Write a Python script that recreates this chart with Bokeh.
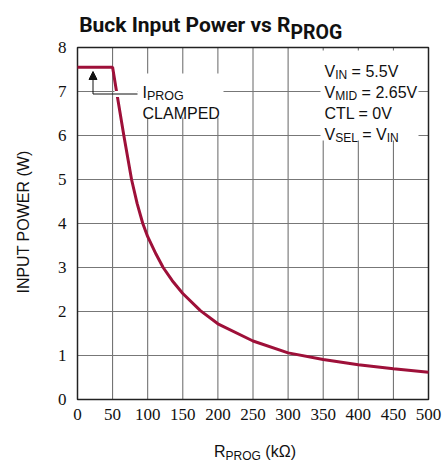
from bokeh.plotting import figure
from bokeh.models import Range1d, Label, BoxAnnotation, Arrow, NormalHead
from bokeh.core.properties import value
from bokeh.embed import file_html
from bokeh.resources import INLINE
import math

# ---- data ----
r_prog = [0, 50, 55.6, 66, 77, 85, 93, 100, 112, 122, 135, 150, 175, 200, 250, 300, 350, 400, 450, 500]
p_in = [7.55, 7.55, 7.0, 6.0, 5.0, 4.45, 4.0, 3.7, 3.3, 3.0, 2.7, 2.41, 2.02, 1.72, 1.33, 1.06, 0.91, 0.79, 0.70, 0.62]
x_ticks = [0, 50, 100, 150, 200, 250, 300, 350, 400, 450, 500]
y_ticks = [0, 1, 2, 3, 4, 5, 6, 7, 8]
x_tick_labels = [str(t) for t in x_ticks]
y_tick_labels = [str(t) for t in y_ticks]

FONT = "Liberation Sans"
TITLEFONT = "Roboto"
TICKFONT = "Liberation Sans Narrow"
CURVE = "#9e1039"
INK = "#111111"

# canvas layout: plot area spans page px 77..428 (x) and 47..399 (y)
W_PX, H_PX = 444, 462
L, R, T, B = 77, 428, 47, 399
xs = (R - L) / (x_ticks[-1] - x_ticks[0])
ys = (B - T) / (y_ticks[-1] - y_ticks[0])
x_range = Range1d(x_ticks[0] - L / xs, x_ticks[-1] + (W_PX - R) / xs)
y_range = Range1d(y_ticks[0] - (H_PX - B) / ys, y_ticks[-1] + T / ys)

p = figure(width=W_PX, height=H_PX, title=None, x_range=x_range, y_range=y_range,
           x_axis_location=None, y_axis_location=None,
           output_backend="svg", toolbar_location=None, min_border=0)
p.grid.visible = False
p.outline_line_color = None
p.background_fill_color = "white"
p.border_fill_color = "white"

# grid lines from the tick arrays
nx, ny = len(x_ticks), len(y_ticks)
p.segment(x0=x_ticks, y0=[y_ticks[0]] * nx, x1=x_ticks, y1=[y_ticks[-1]] * nx,
          line_color="#666666", line_width=1)
p.segment(x0=[x_ticks[0]] * ny, y0=y_ticks, x1=[x_ticks[-1]] * ny, y1=y_ticks,
          line_color="#777777", line_width=1)

# tick labels
p.text(x=x_ticks, y=[y_ticks[0]] * nx, text=x_tick_labels, y_offset=9,
       text_align="center", text_baseline="top", text_font=value(TICKFONT),
       text_font_size="17px", text_color=INK)
p.text(x=[x_ticks[0]] * ny, y=y_ticks, text=y_tick_labels, x_offset=-11,
       text_align="right", text_baseline="middle", text_font=value(TICKFONT),
       text_font_size="17px", text_color=INK)

# page pixel -> data coordinate helpers (layout only)
def dx(px):
    return x_ticks[0] + (px - L) / xs

def dy(py):
    return y_ticks[-1] - (py - T) / ys

W = {' ': 278, '=': 584, '.': 278, '(': 333, ')': 333, 'V': 667, 'I': 278, 'N': 722,
     'M': 833, 'D': 722, 'C': 722, 'T': 611, 'L': 556, 'S': 667, 'E': 667, 'P': 667,
     'R': 722, 'O': 778, 'G': 778, 'A': 667, 'W': 944, 'U': 722, 'k': 500, 'Ω': 768}
for d in "0123456789":
    W[d] = 556

def width(txt, size):
    return sum(W.get(c, 556) for c in txt) * size / 1000.0

def label(txt, px, py, size, bold=False, align="left", angle=0.0, font=FONT):
    lead = len(txt) - len(txt.lstrip(" "))
    px = px + width(" " * lead, size) if align == "left" else px
    p.add_layout(Label(x=px, y=py, x_units="canvas", y_units="canvas",
                       text=txt.strip(" "), text_font=font,
                       text_font_size=f"{size}px",
                       text_font_style="bold" if bold else "normal",
                       text_align=align, text_baseline="alphabetic",
                       text_color=INK, angle=angle))

def compose(pieces, px, py):
    x = px
    for txt, size, drop in pieces:
        label(txt, x, py + drop, size)
        x += width(txt, size)

# white backgrounds behind annotation texts
p.add_layout(BoxAnnotation(left=dx(320), right=dx(418), top=dy(50), bottom=dy(140),
                           fill_color="white", fill_alpha=1, line_color=None))
p.add_layout(BoxAnnotation(left=dx(137), right=dx(223), top=dy(73), bottom=dy(117),
                           fill_color="white", fill_alpha=1, line_color=None))

# frame outline
p.quad(left=[x_ticks[0]], right=[x_ticks[-1]], bottom=[y_ticks[0]], top=[y_ticks[-1]],
       fill_color=None, line_color="#222222", line_width=1.5)

# curve
p.line(r_prog, p_in, line_color=CURVE, line_width=3)

# leader + arrow
p.add_layout(Arrow(end=None, x_start=dx(114), y_start=dy(93.5), x_end=dx(137), y_end=dy(93.5),
                   line_color="white", line_width=6))
p.add_layout(Arrow(end=None, x_start=dx(92.5), y_start=dy(93.5), x_end=dx(137), y_end=dy(93.5),
                   line_color=INK, line_width=1))
p.add_layout(Arrow(end=NormalHead(size=8, fill_color=INK, line_color=INK, line_width=1),
                   x_start=dx(92.5), y_start=dy(93.5), x_end=dx(92.5), y_end=dy(71),
                   line_color=INK, line_width=1))

# IPROG CLAMPED
compose([("I", 16, 0), ("PROG", 12.5, 3.5)], 142, 91.5)
label("CLAMPED", 142, 113, 16)

# conditions
compose([("V", 16, 0), ("IN", 12, 3.5), (" = 5.5V", 16, 0)], 324, 70.5)
compose([("V", 16, 0), ("MID", 12, 3.5), (" = 2.65V", 16, 0)], 324, 91.5)
compose([("CTL = 0V", 16, 0)], 324, 112.5)
compose([("V", 16, 0), ("SEL", 12, 3.5), (" = V", 16, 0), ("IN", 12, 3.5)], 324, 133.5)

# title
label("Buck Input Power vs R", 290, 24, 21, bold=True, align="right", font=TITLEFONT)
label("PROG", 290, 31.5, 19.5, bold=True, align="left", font=TITLEFONT)

# axis titles
compose([("R", 16, 0), ("PROG", 12, 4), (" (kΩ)", 16, 0)], 213.5, 451)
label("INPUT POWER (W)", 22.5, 221.5, 16, align="center", angle=math.pi / 2)

open("out.html", "w").write(file_html(p, INLINE))
